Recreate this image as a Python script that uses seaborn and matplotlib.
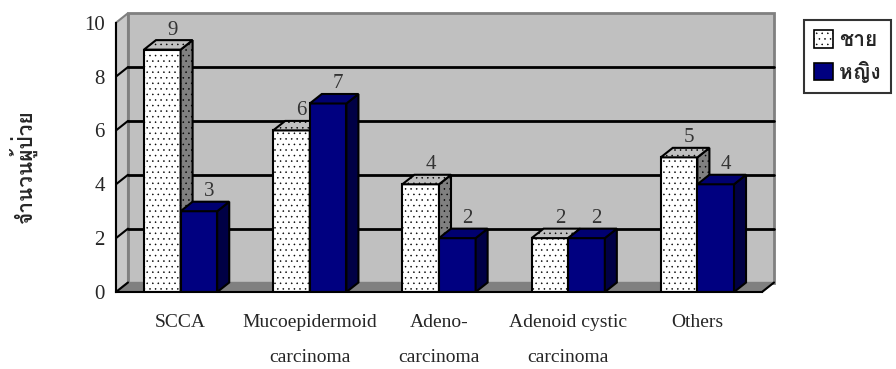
import numpy as np
import pandas as pd
import matplotlib
matplotlib.use("Agg")
import matplotlib.pyplot as plt
import seaborn as sns
from matplotlib import font_manager, ft2font
from matplotlib.patches import Polygon, Rectangle, Patch

# ---- data ----
categories = ["SCCA", "Mucoepidermoid\ncarcinoma", "Adeno-\ncarcinoma",
              "Adenoid cystic\ncarcinoma", "Others"]
male = [9, 6, 4, 2, 5]
female = [3, 7, 2, 2, 4]
series_names = ["ชาย", "หญิง"]
y_label = "จำนวนผู้ป่วย"
y_ticks = [0, 2, 4, 6, 8, 10]

df = pd.DataFrame({
    "type": categories * 2,
    "count": male + female,
    "sex": [series_names[0]] * len(categories) + [series_names[1]] * len(categories),
})

sns.set_style("white")

# find a font that has Thai glyphs
thai_font = None
for f in font_manager.fontManager.ttflist:
    try:
        if 0x0E0A in ft2font.FT2Font(f.fname).get_charmap():
            thai_font = f.name
            break
    except Exception:
        pass
thai_family = [thai_font, "DejaVu Sans"] if thai_font else ["DejaVu Sans"]
serif = "Liberation Serif"
plt.rcParams["font.family"] = [serif, "DejaVu Sans"]
plt.rcParams["hatch.linewidth"] = 0.35

W, H = 896, 369
fig = plt.figure(figsize=(W / 100, H / 100), dpi=100)
ax_left, ax_bottom = 116 / W, (H - 292) / H
ax_w, ax_h = (762 - 116) / W, (292 - 22.7) / H
ax = fig.add_axes([ax_left, ax_bottom, ax_w, ax_h])
ax.patch.set_visible(False)

navy = "#000080"
sns.barplot(data=df, x="type", y="count", hue="sex", palette=["white", navy],
            saturation=1, width=0.567, edgecolor="black", linewidth=1.5,
            legend=False, ax=ax)

ax.set_xlim(-0.5, len(categories) - 0.5)
ax.set_ylim(0, 10)

# depth offset of the 3d look, in data units
dx = 12 / (W * ax_w / len(categories))
dy = 9.5 / (H * ax_h / 10)
x0, x1 = -0.5, len(categories) - 0.5

# back wall, side wall, floor
ax.add_patch(Rectangle((x0 + dx, dy), x1 - x0, 10, facecolor="#C0C0C0",
                       edgecolor="#808080", lw=2, clip_on=False, zorder=0.5))
ax.add_patch(Polygon([(x0, 0), (x0, 10), (x0 + dx, 10 + dy), (x0 + dx, dy)],
                     facecolor="#C8C8C8", edgecolor="#808080", lw=1.5,
                     clip_on=False, zorder=0.6))
ax.add_patch(Polygon([(x0, 0), (x1, 0), (x1 + dx, dy), (x0 + dx, dy)],
                     facecolor="#808080", edgecolor="#808080", lw=1,
                     clip_on=False, zorder=0.6))
ax.plot([x1, x1 + dx], [0, dy], color="black", lw=1.5, clip_on=False, zorder=0.7)
ax.plot([x0, x0 + dx], [0, dy], color="black", lw=1.5, clip_on=False, zorder=0.7)
for yv in y_ticks[1:-1]:
    ax.plot([x0 + dx, x1 + dx], [yv + dy, yv + dy], color="black", lw=2,
            clip_on=False, zorder=0.7)
    ax.plot([x0, x0 + dx], [yv, yv + dy], color="black", lw=1.5,
            clip_on=False, zorder=0.7)

# 3d faces of the bars + value labels
face_cols = [("#C0C0C0", "#808080"), ("#000070", "#000045")]
for k, cont in enumerate(ax.containers):
    top_c, side_c = face_cols[k]
    hatch = "..." if k == 0 else None
    for p in cont.patches:
        p.set_zorder(3 + k)
        if hatch:
            p.set_hatch(hatch)
        bx, bw, bh = p.get_x(), p.get_width(), p.get_height()
        side = Polygon([(bx + bw, 0), (bx + bw, bh), (bx + bw + dx, bh + dy),
                        (bx + bw + dx, dy)], facecolor=side_c, edgecolor="black",
                       lw=1.5, hatch=hatch, clip_on=False, zorder=3 + k)
        top = Polygon([(bx, bh), (bx + bw, bh), (bx + bw + dx, bh + dy),
                       (bx + dx, bh + dy)], facecolor=top_c, edgecolor="black",
                      lw=1.5, hatch=hatch, clip_on=False, zorder=3 + k)
        ax.add_patch(side)
        ax.add_patch(top)
        ax.text(bx + bw / 2 + dx * 0.85, bh + dy + 0.02, f"{bh:g}",
                ha="center", va="bottom", fontsize=15, color="#333333",
                family=serif, zorder=6)

# axes
sns.despine(ax=ax, top=True, right=True)
for s in ["left", "bottom"]:
    ax.spines[s].set_linewidth(1.5)
    ax.spines[s].set_color("black")
    ax.spines[s].set_zorder(5)
ax.set_yticks(y_ticks)
ax.set_yticklabels([str(v) for v in y_ticks], fontsize=15, family=serif)
ax.tick_params(axis="y", direction="out", length=7, width=1.5, pad=1)
ax.set_xticks(range(len(categories)))
ax.set_xticklabels(categories, fontsize=14, family=serif, linespacing=2.4,
                   va="top")
ax.set_xticks(np.arange(x0, x1 + 0.1, 1), minor=True)
ax.tick_params(axis="x", which="major", length=0, pad=16)
ax.tick_params(axis="x", which="minor", direction="out", length=7, width=1.5)
ax.set_xlabel("")
ax.set_ylabel("")

fig.text(0.025, 1 - 166 / H, y_label, rotation=90, ha="center", va="center",
         fontsize=15, fontweight="bold", family=thai_family)

# legend
handles = [Patch(facecolor="white", edgecolor="black", hatch="...", lw=1.2),
           Patch(facecolor=navy, edgecolor="black", lw=1.2)]
leg = fig.legend(handles, series_names, loc="upper left",
                 bbox_to_anchor=(804 / W, 1 - 20 / H), borderaxespad=0,
                 frameon=True, fancybox=False, handlelength=0.9,
                 handleheight=0.9, handletextpad=0.3, labelspacing=0.5,
                 borderpad=0.5, prop={"family": thai_family, "weight": "bold",
                                      "size": 15})
leg.get_frame().set_edgecolor("black")
leg.get_frame().set_linewidth(1.5)

fig.savefig("out.png", dpi=100)
